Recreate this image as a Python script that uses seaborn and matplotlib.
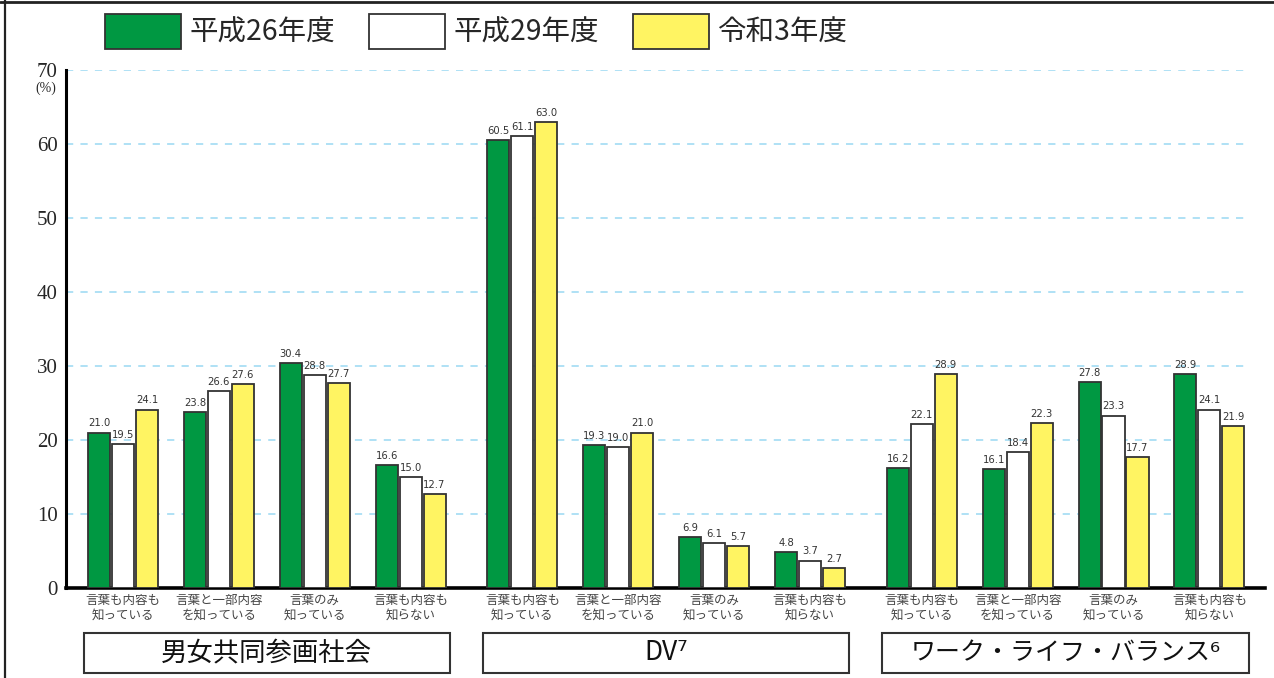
import numpy as np
import pandas as pd
import seaborn as sns
import matplotlib.pyplot as plt
from matplotlib.patches import Rectangle
from matplotlib.lines import Line2D
import matplotlib.transforms as mtransforms

# data
groups = ["男女共同参画社会", "DV⁷", "ワーク・ライフ・バランス⁶"]
answers = ["言葉も内容も\n知っている", "言葉と一部内容\nを知っている", "言葉のみ\n知っている", "言葉も内容も\n知らない"]
years = ["平成26年度", "平成29年度", "令和3年度"]

h26 = [21.0, 23.8, 30.4, 16.6, 60.5, 19.3, 6.9, 4.8, 16.2, 16.1, 27.8, 28.9]
h29 = [19.5, 26.6, 28.8, 15.0, 61.1, 19.0, 6.1, 3.7, 22.1, 18.4, 23.3, 24.1]
r3 = [24.1, 27.6, 27.7, 12.7, 63.0, 21.0, 5.7, 2.7, 28.9, 22.3, 17.7, 21.9]

colors = ["#009842", "#FFFFFF", "#FFF462"]

# cluster positions: 4 per group, extra space between groups
group_step = 4.166
pos = [g * group_step + i for g in range(len(groups)) for i in range(len(answers))]

rows = []
for year, vals in zip(years, [h26, h29, r3]):
    for p, v in zip(pos, vals):
        rows.append({"pos": p, "value": v, "year": year})
df = pd.DataFrame(rows)

sns.set_style("white")
plt.rcParams["font.family"] = ["Noto Sans CJK JP", "DejaVu Sans"]

fig = plt.figure(figsize=(12.74, 6.78), dpi=100)
ax = fig.add_axes([66 / 1274, 90 / 678, 1199 / 1274, 518 / 678])

sns.barplot(data=df, x="pos", y="value", hue="year", hue_order=years,
            palette=colors, native_scale=True, width=0.75, gap=0.08,
            saturation=1, errorbar=None, edgecolor="#333333", linewidth=1.3,
            legend=False, ax=ax, zorder=3)

for c in ax.containers:
    ax.bar_label(c, fmt="%.1f", padding=3, fontsize=8, color="#333333",
                 family=["DejaVu Sans"], fontstretch="condensed")

ax.set_xlim(-0.594, 11.912)
ax.set_ylim(0, 70)
ax.set_yticks(range(0, 71, 10))
ax.set_yticklabels([str(v) for v in range(0, 71, 10)], family="Liberation Serif", fontsize=15)
ax.tick_params(axis="y", length=0, pad=6)
ax.set_xticks(pos)
ax.set_xticklabels(answers * 3, fontsize=9, color="#444444", linespacing=1.2)
ax.tick_params(axis="x", length=0, pad=4)
ax.set_xlabel("")
ax.set_ylabel("")

for v in range(10, 71, 10):
    ax.axhline(v, xmax=0.985, color="#A9DEF5", lw=1.3, ls=(0, (4, 4)), zorder=1)

for s in ["top", "right"]:
    ax.spines[s].set_visible(False)
ax.spines["left"].set_linewidth(2.2)
ax.spines["left"].set_color("black")
ax.spines["bottom"].set_linewidth(2.6)
ax.spines["bottom"].set_color("black")

fig.text(46 / 1274, 1 - 88 / 678, "(%)", ha="center", va="center",
         family="Liberation Serif", fontsize=10)

# group boxes below the axis
trans = mtransforms.blended_transform_factory(ax.transData, fig.transFigure)
for g, name in enumerate(groups):
    center = g * group_step + 1.5
    ax.add_patch(Rectangle((center - 1.91, 5 / 678), 3.82, 40 / 678, transform=trans,
                           fill=False, edgecolor="#333333", lw=1.5, clip_on=False))
    ax.text(center, 25 / 678, name, transform=trans, ha="center", va="center",
            fontsize=19 if g < 2 else 18, color="#111111")

# legend
handles = [Rectangle((0, 0), 1, 1, facecolor=c, edgecolor="#333333", lw=1.3) for c in colors]
fig.legend(handles, years, loc="upper left", bbox_to_anchor=(105 / 1274, 1 - 14 / 678),
           ncol=3, frameon=False, fontsize=20.5, handlelength=2.68, handleheight=1.5,
           handletextpad=0.28, columnspacing=1.2, borderpad=0, borderaxespad=0)

# outer frame lines
fig.add_artist(Line2D([0, 1], [1 - 2 / 678, 1 - 2 / 678], color="#222222", lw=2))
fig.add_artist(Line2D([4.5 / 1274, 4.5 / 1274], [0, 1], color="#222222", lw=1.6))

fig.savefig("out.png", dpi=100)
